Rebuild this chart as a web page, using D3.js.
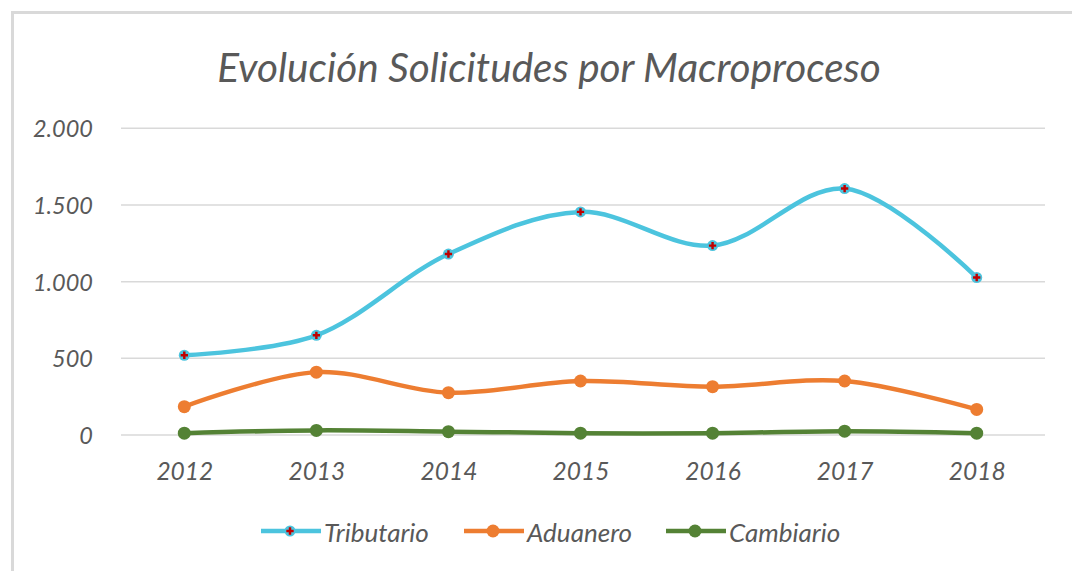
<!DOCTYPE html>
<html><head><meta charset="utf-8">
<script src="https://cdn.jsdelivr.net/npm/d3@7"></script>
<style>
html,body{margin:0;padding:0;background:#fff;}
svg{display:block;}
text{font-family:Lato, "Open Sans", sans-serif;font-style:italic;}
</style></head>
<body><svg id="c" width="1072" height="571"></svg>
<script>
const years = ["2012","2013","2014","2015","2016","2017","2018"];
const tributario = [520, 650, 1180, 1455, 1235, 1607, 1027];
const aduanero = [185, 410, 276, 352, 315, 352, 167];
const cambiario = [12, 30, 22, 12, 12, 25, 12];
const yTicks = [0, 500, 1000, 1500, 2000];
const seriesNames = ["Tributario", "Aduanero", "Cambiario"];
const title = "Evolución Solicitudes por Macroproceso";

const colors = {Tributario:"#4CC4DE", Aduanero:"#ED7D31", Cambiario:"#548235"};
const series = [
  {name:"Tributario", values:tributario},
  {name:"Aduanero", values:aduanero},
  {name:"Cambiario", values:cambiario}
];

const svg = d3.select("#c");
// chart border
svg.append("path").attr("d","M12.5,1072 V12.5 H1072").attr("fill","none").attr("stroke","#d9d9d9").attr("stroke-width",3);

const x = d3.scalePoint().domain(years).range([184.3, 976.7]);
const y = d3.scaleLinear().domain([0,2000]).range([435, 128.3]);

svg.append("text").attr("x",549).attr("y",82).attr("text-anchor","middle")
  .attr("font-size",40.5).attr("fill","#595959").text(title);

// gridlines
svg.append("g").selectAll("line").data(yTicks).join("line")
  .attr("x1",121).attr("x2",1045).attr("y1",d=>y(d)).attr("y2",d=>y(d))
  .attr("stroke","#d9d9d9").attr("stroke-width",1.5);

const fmt = d3.formatLocale({decimal:",",thousands:".",grouping:[3],currency:["",""]}).format(",");
// y axis
const yAxis = d3.axisLeft(y).tickValues(yTicks).tickFormat(fmt).tickSize(0).tickPadding(0);
const gy = svg.append("g").attr("transform","translate(93,0)").call(yAxis);
gy.select(".domain").remove();
gy.selectAll("text").attr("font-size",23.5).attr("fill","#595959").attr("dy","0.36em")
  .style("font-family","Lato").style("font-style","italic");

// x axis
const xAxis = d3.axisBottom(x).tickSize(0).tickPadding(0);
const gx = svg.append("g").attr("transform","translate(0,463)").call(xAxis);
gx.select(".domain").remove();
gx.selectAll("text").attr("font-size",24.5).attr("fill","#595959").attr("dy","0.71em")
  .style("font-family","Lato").style("font-style","italic");

const line = d3.line().x((d,i)=>x(years[i])).y(d=>y(d)).curve(d3.curveCatmullRom.alpha(0.5));

// draw in order: cambiario, aduanero, tributario on top
const drawOrder = [series[2], series[1], series[0]];
drawOrder.forEach(s=>{
  svg.append("path").datum(s.values).attr("d",line).attr("fill","none")
    .attr("stroke",colors[s.name]).attr("stroke-width",4.5).attr("stroke-linecap","round");
  const g = svg.append("g");
  g.selectAll("circle").data(s.values).join("circle")
    .attr("cx",(d,i)=>x(years[i])).attr("cy",d=>y(d)).attr("r",s.name==="Tributario"?5.5:6.5)
    .attr("fill",colors[s.name]);
  if(s.name==="Tributario"){
    g.selectAll("path.m").data(s.values).join("path").attr("class","m")
      .attr("d",d3.symbol().type(d3.symbolCross).size(30))
      .attr("transform",(d,i)=>`translate(${x(years[i])},${y(d)})`)
      .attr("fill","#C00000");
  }
});

// legend
const legendX = [261, 464, 666];
const lg = svg.append("g");
series.forEach((s,i)=>{
  const lx = legendX[i], ly = 531;
  lg.append("line").attr("x1",lx).attr("x2",lx+60).attr("y1",ly).attr("y2",ly)
    .attr("stroke",colors[s.name]).attr("stroke-width",4.5);
  lg.append("circle").attr("cx",lx+29).attr("cy",ly).attr("r",s.name==="Tributario"?5.5:6.5).attr("fill",colors[s.name]);
  if(s.name==="Tributario"){
    lg.append("path").attr("d",d3.symbol().type(d3.symbolCross).size(30))
      .attr("transform",`translate(${lx+29},${ly})`).attr("fill","#C00000");
  }
  lg.append("text").attr("x",lx+63).attr("y",ly+2).attr("dy","0.35em").attr("font-size",26)
    .attr("fill","#595959").text(s.name);
});
</script></body></html>
